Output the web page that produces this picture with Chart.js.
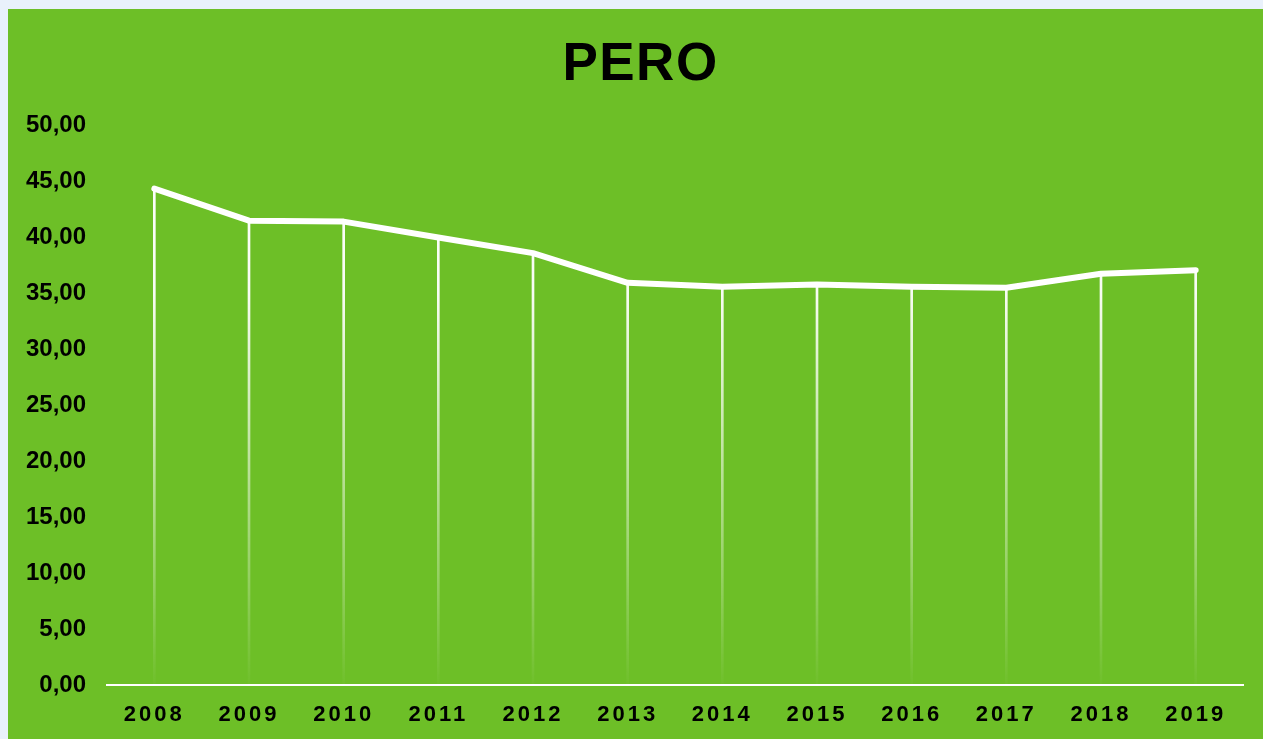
<!DOCTYPE html>
<html>
<head>
<meta charset="utf-8">
<title>PERO</title>
<script src="https://cdn.jsdelivr.net/npm/chart.js@4.4.1/dist/chart.umd.min.js"></script>
<style>
  html, body { margin: 0; padding: 0; background: #e9f1fb; }
  #wrap {
    position: absolute;
    left: 8px; top: 9px;
    width: 1255px; height: 730px;
    background: #6dbf27;
  }
</style>
</head>
<body>
<div id="wrap"><canvas id="lineChart"></canvas></div>
<script>
// data
const years = ['2008', '2009', '2010', '2011', '2012', '2013', '2014', '2015', '2016', '2017', '2018', '2019'];
const peroValues = [44.36, 41.5, 41.42, 40.0, 38.6, 35.95, 35.6, 35.8, 35.6, 35.5, 36.75, 37.08];
const yTickLabels = ['0,00', '5,00', '10,00', '15,00', '20,00', '25,00', '30,00', '35,00', '40,00', '45,00', '50,00'];

// fading white for the drop lines
function dropGradient(context) {
  const chart = context.chart;
  const area = chart.chartArea;
  if (!area) return 'rgba(255,255,255,0.9)';
  const g = chart.ctx.createLinearGradient(0, area.top, 0, area.bottom);
  g.addColorStop(0, 'rgba(255,255,255,1)');
  g.addColorStop(0.3, 'rgba(255,255,255,0.95)');
  g.addColorStop(1, 'rgba(255,255,255,0.02)');
  return g;
}

// wrap a draw method so its text gets letter spacing (and an optional x shift)
function spaced(chart, obj, method, spacing, dx) {
  if (!obj || obj['_spaced_' + method]) return;
  const orig = obj[method].bind(obj);
  obj[method] = function (a) {
    chart.ctx.save();
    chart.ctx.letterSpacing = spacing;
    if (dx) chart.ctx.translate(dx, 0);
    orig(a);
    chart.ctx.restore();
  };
  obj['_spaced_' + method] = true;
}

const spacedText = {
  id: 'spacedText',
  afterLayout(chart) {
    spaced(chart, chart.scales.x, 'drawLabels', '3px', 0);
    // title sits centred on the whole panel, not the padded box
    spaced(chart, chart.titleBlock, 'draw', '1.5px', 15);
  }
};

const ctx = document.getElementById('lineChart').getContext('2d');
const lineChart = new Chart(ctx, {
  type: 'line',
  data: {
    labels: years,
    datasets: [
      {
        label: 'PERO',
        data: peroValues,
        borderColor: '#ffffff',
        borderWidth: 6,
        borderCapStyle: 'round',
        borderJoinStyle: 'round',
        pointRadius: 0,
        tension: 0,
        fill: false,
        order: 0
      },
      {
        type: 'bar',
        label: 'drop',
        data: peroValues,
        backgroundColor: dropGradient,
        borderWidth: 0,
        barThickness: 2,
        order: 1
      }
    ]
  },
  options: {
    responsive: true,
    maintainAspectRatio: false,
    animation: false,
    layout: { padding: { left: 0, right: 20, top: 0, bottom: 0 } },
    scales: {
      y: {
        min: 0,
        max: 50,
        afterFit: (scale) => { scale.width = 99; },
        ticks: {
          stepSize: 5,
          color: '#000000',
          padding: 21,
          font: { family: 'Liberation Sans', size: 24, weight: 'bold' },
          callback: (v, i) => yTickLabels[i]
        },
        grid: { display: false, drawTicks: false },
        border: { display: false }
      },
      x: {
        offset: true,
        afterFit: (scale) => { scale.height = 54; },
        ticks: {
          color: '#000000',
          padding: 17,
          maxRotation: 0,
          font: { family: 'Liberation Sans', size: 22, weight: 'bold' }
        },
        grid: { display: false, drawTicks: false },
        border: { display: true, color: '#ffffff', width: 2 }
      }
    },
    plugins: {
      legend: { display: false },
      tooltip: { enabled: false },
      title: {
        display: true,
        text: 'PERO',
        color: '#000000',
        font: { family: 'Liberation Sans', size: 53, weight: 'bold' },
        padding: { top: 25, bottom: 28 }
      }
    }
  },
  plugins: [spacedText]
});
</script>
</body>
</html>
